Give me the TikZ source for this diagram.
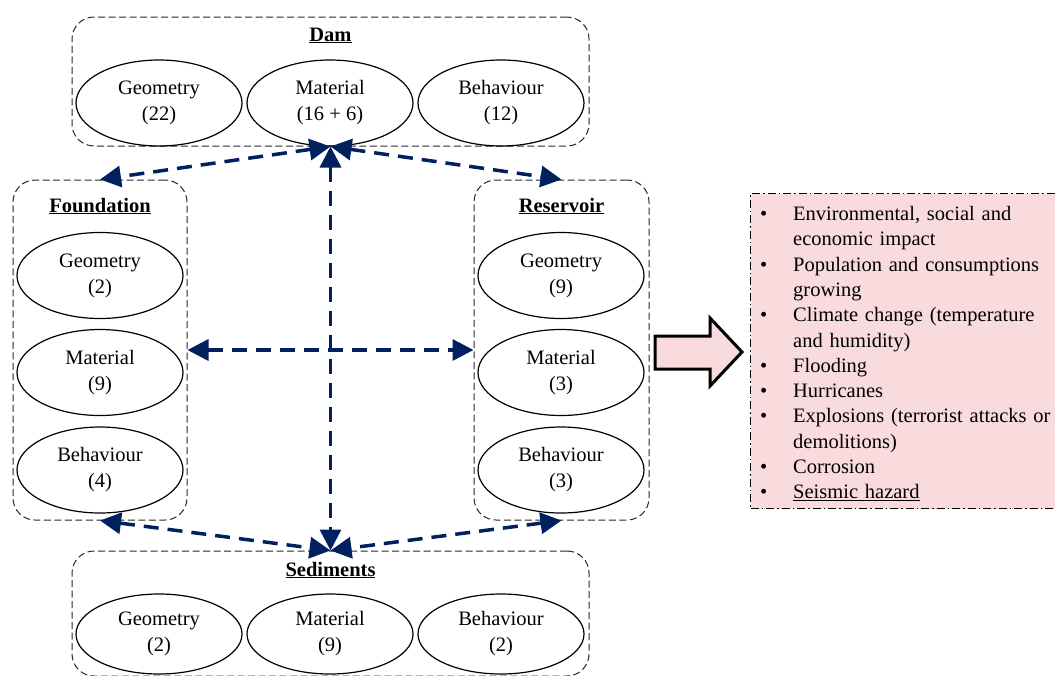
\documentclass[tikz,border=0pt]{standalone}
\usepackage{fontspec}
\setmainfont{Liberation Serif}
\usetikzlibrary{shapes.geometric,arrows.meta}
\definecolor{navy}{RGB}{0,32,96}
\definecolor{pinkfill}{RGB}{250,219,221}
\definecolor{boxgray}{RGB}{40,40,40}
\newcommand\riskitem[1]{\par\hangindent=33pt\hangafter=1\noindent\makebox[33pt][l]{\textbullet}#1}
\begin{document}
\begin{tikzpicture}[x=1pt,y=-1pt,
  grp/.style={draw=boxgray, line width=1pt, dash pattern=on 7pt off 3.5pt, rounded corners=22pt, inner sep=0pt},
  oval/.style={ellipse, draw, line width=1.2pt, minimum width=166pt, minimum height=86pt, inner sep=0pt, align=center, font=\fontsize{20.5}{26}\selectfont},
  ttl/.style={font=\fontsize{20.5}{26}\selectfont\bfseries, inner sep=0pt, anchor=base},
  link/.style={navy, line width=3.5pt, dash pattern=on 15pt off 9pt, {Triangle[length=21pt,width=21pt]}-{Triangle[length=21pt,width=21pt]}}
]
\useasboundingbox (0,0) rectangle (1055,675);
\clip (0,0) rectangle (1055,675);

% group boxes
\node[grp, minimum width=517pt, minimum height=129pt] (dam) at (330.5,81.5) {};
\node[grp, minimum width=174pt, minimum height=340pt] (fnd) at (100,350) {};
\node[grp, minimum width=175pt, minimum height=340pt] (res) at (561.5,350) {};
\node[grp, minimum width=517pt, minimum height=125pt] (sed) at (330.5,613.5) {};

% titles
\node[ttl] (damt) at (330.5,41) {\underline{Dam}};
\node[ttl] (fndt) at (100,212) {\underline{Foundation}};
\node[ttl] (rest) at (561.5,212) {\underline{Reservoir}};
\node[ttl] (sedt) at (330.5,576) {\underline{Sediments}};

% dam
\node[oval] (dg) at (159,103) {Geometry\\(22)};
\node[oval] (dm) at (330,103) {Material\\(16 + 6)};
\node[oval] (db) at (501,103) {Behaviour\\(12)};
% foundation
\node[oval] (fg) at (100,275.5) {Geometry\\(2)};
\node[oval] (fm) at (100,372.5) {Material\\(9)};
\node[oval] (fb) at (100,470) {Behaviour\\(4)};
% reservoir
\node[oval] (rg) at (561,275.5) {Geometry\\(9)};
\node[oval] (rm) at (561,372.5) {Material\\(3)};
\node[oval] (rb) at (561,470) {Behaviour\\(3)};
% sediments
\node[oval, minimum height=80pt] (sg) at (159,634) {Geometry\\(2)};
\node[oval, minimum height=80pt] (sm) at (330,634) {Material\\(9)};
\node[oval, minimum height=80pt] (sb) at (501,634) {Behaviour\\(2)};

% connectors
\draw[link] (dam.south) -- (fnd.north);
\draw[link] (dam.south) -- (res.north);
\draw[link] (dam.south) -- (sed.north);
\draw[link] (fnd.east) -- (res.west);
\draw[link] (fnd.south) -- (sed.north);
\draw[link] (res.south) -- (sed.north);

% big arrow
\draw[line width=3pt, fill=pinkfill, miter limit=10]
  (655,336) -- (710,336) -- (710,318) -- (742,352) -- (710,386) -- (710,369) -- (655,369) -- cycle;

% risk list
\node[draw, line width=1pt, dash pattern=on 8pt off 3pt on 1.5pt off 3pt, fill=pinkfill,
      minimum width=320pt, minimum height=315pt, anchor=north west, inner sep=0pt] (risk) at (750,193) {};
\node[anchor=north west, inner sep=0pt, text width=320pt, align=left,
      font=\fontsize{20.5}{25.3}\selectfont] (lst) at (760,195) {%
\riskitem{Environmental, social and\newline economic impact}
\riskitem{Population and consumptions\newline growing}
\riskitem{Climate change (temperature\newline and humidity)}
\riskitem{Flooding}
\riskitem{Hurricanes}
\riskitem{Explosions (terrorist attacks or\newline demolitions)}
\riskitem{Corrosion}
\riskitem{\underline{Seismic hazard}}\par};
\end{tikzpicture}
\end{document}
